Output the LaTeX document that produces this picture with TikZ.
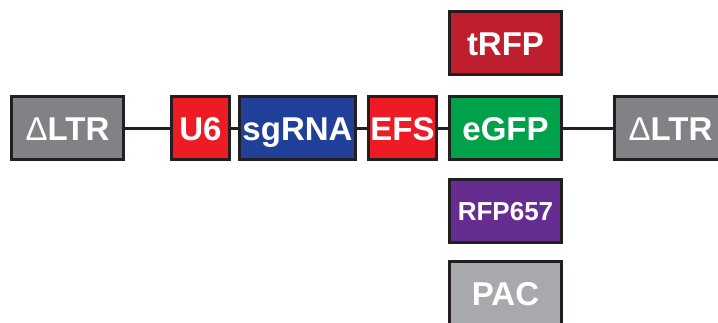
\documentclass[tikz,border=0pt]{standalone}
\usepackage{fontspec}
\setmainfont{Liberation Sans}
\definecolor{ltrgray}{HTML}{808285}
\definecolor{pacgray}{HTML}{A7A9AC}
\definecolor{ured}{HTML}{ED1C24}
\definecolor{sgblue}{HTML}{21409A}
\definecolor{gfpgreen}{HTML}{00A14B}
\definecolor{trfpred}{HTML}{BE1E2D}
\definecolor{rfppurple}{HTML}{662D91}
\definecolor{edge}{HTML}{231F20}
\newcommand{\dLTR}{{\fontseries{m}\selectfont Δ}\textbf{LTR}}
\begin{document}
\begin{tikzpicture}[x=1pt,y=-1pt,
  part/.style={draw=edge,line width=3pt,inner sep=0pt,outer sep=0pt,
    minimum height=63pt,text=white,font=\fontsize{33}{33}\selectfont\bfseries,
    text height=24pt,text depth=0pt,anchor=north west},
  link/.style={draw=edge,line width=3pt}]
\useasboundingbox (0,0) rectangle (718,322);
\node[part,fill=ltrgray,minimum width=112pt] (ltrL) at (11.5,96.5) {\dLTR};
\node[part,fill=ured,minimum width=58pt] (u6) at (171.5,96.5) {U6};
\node[part,fill=sgblue,minimum width=116pt] (sg) at (239.5,96.5) {sgRNA};
\node[part,fill=ured,minimum width=68pt] (efs) at (368.5,96.5) {EFS};
\node[part,fill=gfpgreen,minimum width=112pt] (gfp) at (449.5,96.5) {eGFP};
\node[part,fill=ltrgray,minimum width=112pt] (ltrR) at (614.5,96.5) {\dLTR};
\node[part,fill=trfpred,minimum width=112pt] (trfp) at (449.5,11.5) {tRFP};
\node[part,fill=rfppurple,minimum width=112pt,font=\fontsize{26}{26}\selectfont\bfseries,text height=19pt] (rfp) at (449.5,179.5) {RFP657};
\node[part,fill=pacgray,minimum width=112pt] (pac) at (449.5,261.5) {PAC};
\draw[link] (ltrL.east) -- (u6.west);
\draw[link] (u6.east) -- (sg.west);
\draw[link] (sg.east) -- (efs.west);
\draw[link] (efs.east) -- (gfp.west);
\draw[link] (gfp.east) -- (ltrR.west);
\end{tikzpicture}
\end{document}
